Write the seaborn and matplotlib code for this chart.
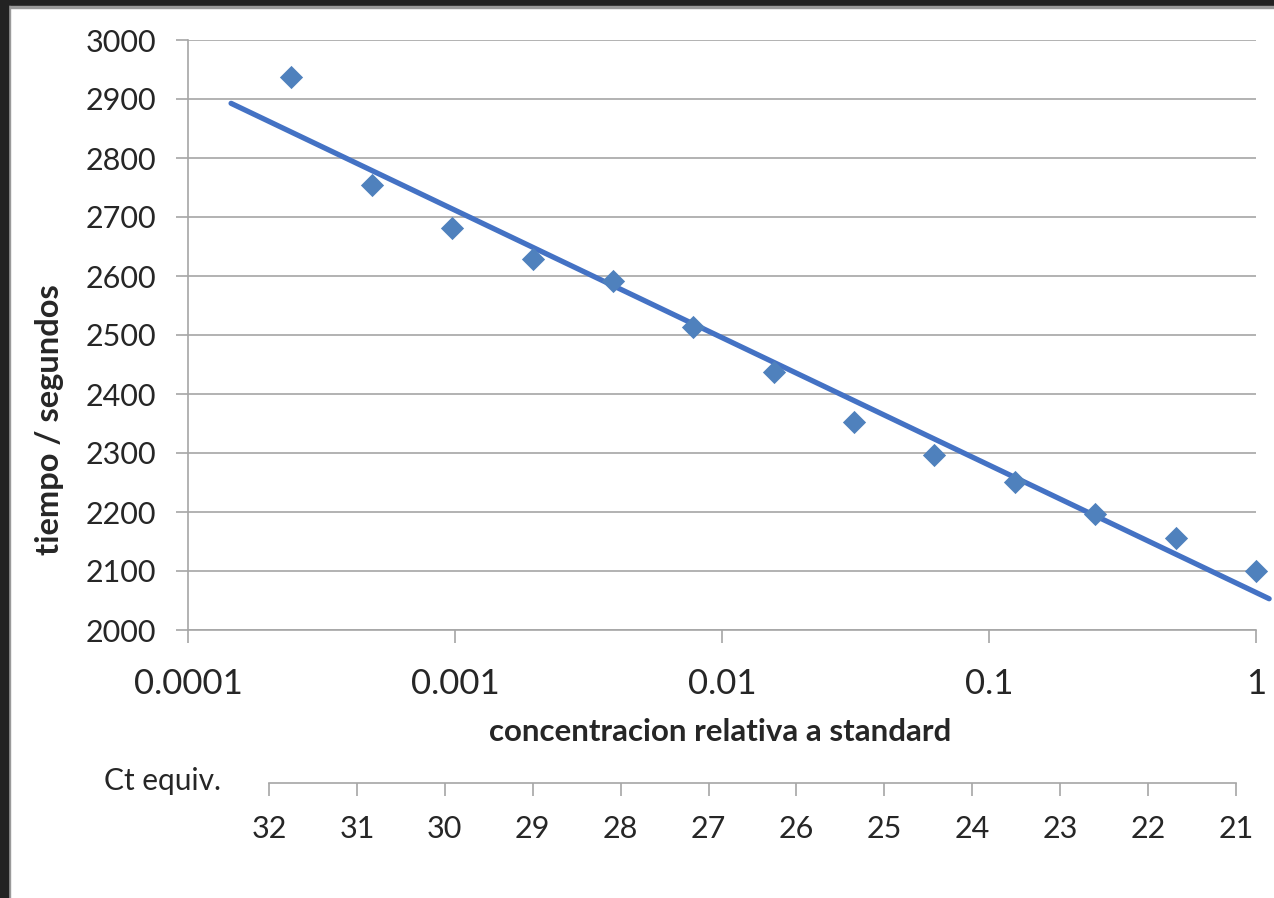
import numpy as np
import pandas as pd
import matplotlib
matplotlib.use('Agg')
import matplotlib.pyplot as plt
from matplotlib.patches import Rectangle
import seaborn as sns

# dilution series (relative to standard) and measured times
concentracion = [1 / 4096, 1 / 2048, 1 / 1024, 1 / 512, 1 / 256, 1 / 128, 1 / 64,
                 1 / 32, 1 / 16, 1 / 8, 1 / 4, 1 / 2, 1]
tiempo = [2937, 2754, 2681, 2629, 2592, 2514, 2437, 2353, 2297, 2251, 2197, 2156, 2100]

x_ticks = [0.0001, 0.001, 0.01, 0.1, 1]
x_ticklabels = ['0.0001', '0.001', '0.01', '0.1', '1']
y_ticks = [2000, 2100, 2200, 2300, 2400, 2500, 2600, 2700, 2800, 2900, 3000]
ct_ticks = [32, 31, 30, 29, 28, 27, 26, 25, 24, 23, 22, 21]

df = pd.DataFrame({'conc': concentracion, 'tiempo': tiempo})

# log fit for the trend line (Excel style logarithmic trendline)
slope, intercept = np.polyfit(np.log10(df['conc']), df['tiempo'], 1)
trend_x = np.logspace(np.log10(1.45e-4), np.log10(1.12), 50)
trend = pd.DataFrame({'conc': trend_x, 'tiempo': slope * np.log10(trend_x) + intercept})

sns.set_style('white')
plt.rcParams['font.family'] = ['Lato', 'DejaVu Sans']

W, H = 1274, 898
fig = plt.figure(figsize=(W / 100, H / 100), dpi=100)
fig.patch.set_facecolor('white')

ax = fig.add_axes([188 / W, 1 - 630 / H, (1256 - 188) / W, 590 / H])

grid_col = '#a6a6a6'
sns.lineplot(data=trend, x='conc', y='tiempo', ax=ax, color='#4472c4',
             linewidth=3.8, clip_on=False, zorder=3)
sns.scatterplot(data=df, x='conc', y='tiempo', ax=ax, marker='D', s=140,
                color='#4f81bd', edgecolor='#4f81bd', linewidth=0, zorder=4,
                clip_on=False)

ax.set_xscale('log')
ax.set_xlim(1e-4, 1)
ax.set_ylim(2000, 3000)
ax.set_xticks(x_ticks)
ax.set_xticklabels(x_ticklabels)
ax.xaxis.set_minor_locator(matplotlib.ticker.NullLocator())
ax.set_yticks(y_ticks)
ax.yaxis.grid(True, color=grid_col, linewidth=1.2)
ax.xaxis.grid(False)
for side in ['top', 'right']:
    ax.spines[side].set_visible(False)
for side in ['left', 'bottom']:
    ax.spines[side].set_color(grid_col)
    ax.spines[side].set_linewidth(1.2)
ax.tick_params(axis='x', which='major', direction='out', length=9, width=1.2,
               color=grid_col, labelsize=25, pad=18, bottom=True)
ax.tick_params(axis='y', which='major', direction='out', length=9, width=1.2,
               color=grid_col, labelsize=22, pad=14, left=True)
ax.set_xlabel('concentracion relativa a standard', fontsize=22.5, fontweight='bold',
              va='center')
ax.xaxis.set_label_coords((720 - 188) / 1068, (630 - 732) / 590)
ax.set_ylabel('tiempo / segundos', fontsize=23.5, fontweight='bold', va='center')
ax.yaxis.set_label_coords((50 - 188) / 1068, (630 - 420) / 590)

# secondary Ct scale drawn as its own axis
ax_ct = fig.add_axes([269 / W, 1 - 783 / H, (1236 - 269) / W, 0.001])
ax_ct.set_xlim(32, 21)
ax_ct.set_ylim(0, 1)
ax_ct.set_xticks(ct_ticks)
ax_ct.set_xticklabels([str(c) for c in ct_ticks])
ax_ct.set_yticks([])
for side in ['top', 'right', 'left']:
    ax_ct.spines[side].set_visible(False)
ax_ct.spines['bottom'].set_color(grid_col)
ax_ct.spines['bottom'].set_linewidth(1.2)
ax_ct.tick_params(axis='x', direction='out', length=9, width=1.2, color=grid_col,
                  labelsize=22, pad=14, bottom=True)
ax_ct.patch.set_alpha(0)
fig.text(163 / W, 1 - 781 / H, 'Ct equiv.', fontsize=21.5, ha='center', va='center')

# dark screenshot frame on top and left
fig.patches.append(Rectangle((0, 1 - 6 / H), 1, 6 / H, transform=fig.transFigure,
                             color='#222222', zorder=10))
fig.patches.append(Rectangle((0, 1 - 8 / H), 1, 2 / H, transform=fig.transFigure,
                             color='#9a9a9a', zorder=10))
fig.patches.append(Rectangle((0, 0), 8 / W, 1, transform=fig.transFigure,
                             color='#222222', zorder=11))
fig.patches.append(Rectangle((8 / W, 0), 2 / W, 1 - 6 / H, transform=fig.transFigure,
                             color='#9a9a9a', zorder=10))

fig.savefig('out.png', dpi=100)
